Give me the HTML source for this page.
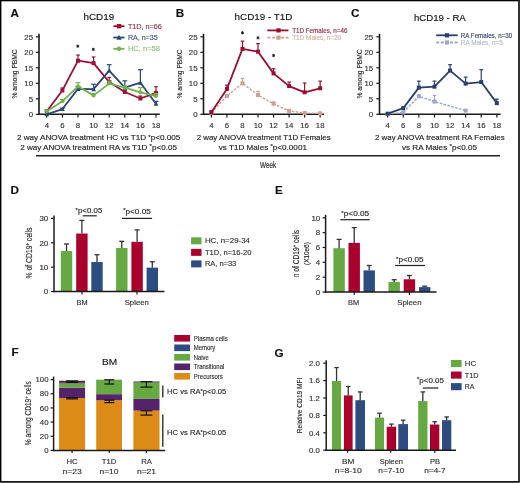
<!DOCTYPE html>
<html><head><meta charset="utf-8"><style>
html,body{margin:0;padding:0;background:#fff;}
body{width:520px;height:483px;overflow:hidden;}
svg{display:block;font-family:"Liberation Sans", sans-serif;will-change:transform;}
text{stroke-width:0.15px;}
</style></head><body>
<svg width="520" height="483" viewBox="0 0 520 483">
<rect x="0" y="0" width="520" height="483" fill="#fff"/>
<text x="10.40" y="17.40" font-size="11.7" fill="#111" stroke="#111" font-weight="bold">A</text>
<text x="83.50" y="20.30" font-size="9.9" fill="#111" stroke="#111" stroke-width="0.3" textLength="30.70" lengthAdjust="spacingAndGlyphs">hCD19</text>
<line x1="39.00" y1="33.80" x2="39.00" y2="115.05" stroke="#1a1a1a" stroke-width="1.6"/>
<line x1="38.25" y1="114.30" x2="159.80" y2="114.30" stroke="#1a1a1a" stroke-width="1.5"/>
<line x1="35.80" y1="114.30" x2="39.00" y2="114.30" stroke="#1a1a1a" stroke-width="1.2"/>
<text x="33.00" y="117.05" font-size="7.8" text-anchor="end" fill="#333" stroke="#333">0</text>
<line x1="35.80" y1="98.80" x2="39.00" y2="98.80" stroke="#1a1a1a" stroke-width="1.2"/>
<text x="33.00" y="101.55" font-size="7.8" text-anchor="end" fill="#333" stroke="#333">5</text>
<line x1="35.80" y1="83.30" x2="39.00" y2="83.30" stroke="#1a1a1a" stroke-width="1.2"/>
<text x="33.00" y="86.05" font-size="7.8" text-anchor="end" fill="#333" stroke="#333">10</text>
<line x1="35.80" y1="67.80" x2="39.00" y2="67.80" stroke="#1a1a1a" stroke-width="1.2"/>
<text x="33.00" y="70.55" font-size="7.8" text-anchor="end" fill="#333" stroke="#333">15</text>
<line x1="35.80" y1="52.30" x2="39.00" y2="52.30" stroke="#1a1a1a" stroke-width="1.2"/>
<text x="33.00" y="55.05" font-size="7.8" text-anchor="end" fill="#333" stroke="#333">20</text>
<line x1="35.80" y1="36.80" x2="39.00" y2="36.80" stroke="#1a1a1a" stroke-width="1.2"/>
<text x="33.00" y="39.55" font-size="7.8" text-anchor="end" fill="#333" stroke="#333">25</text>
<line x1="46.80" y1="114.30" x2="46.80" y2="117.50" stroke="#1a1a1a" stroke-width="1.2"/>
<text x="46.80" y="128.40" font-size="7.8" text-anchor="middle" fill="#333" stroke="#333">4</text>
<line x1="62.40" y1="114.30" x2="62.40" y2="117.50" stroke="#1a1a1a" stroke-width="1.2"/>
<text x="62.40" y="128.40" font-size="7.8" text-anchor="middle" fill="#333" stroke="#333">6</text>
<line x1="78.00" y1="114.30" x2="78.00" y2="117.50" stroke="#1a1a1a" stroke-width="1.2"/>
<text x="78.00" y="128.40" font-size="7.8" text-anchor="middle" fill="#333" stroke="#333">8</text>
<line x1="93.60" y1="114.30" x2="93.60" y2="117.50" stroke="#1a1a1a" stroke-width="1.2"/>
<text x="93.60" y="128.40" font-size="7.8" text-anchor="middle" fill="#333" stroke="#333">10</text>
<line x1="109.20" y1="114.30" x2="109.20" y2="117.50" stroke="#1a1a1a" stroke-width="1.2"/>
<text x="109.20" y="128.40" font-size="7.8" text-anchor="middle" fill="#333" stroke="#333">12</text>
<line x1="124.80" y1="114.30" x2="124.80" y2="117.50" stroke="#1a1a1a" stroke-width="1.2"/>
<text x="124.80" y="128.40" font-size="7.8" text-anchor="middle" fill="#333" stroke="#333">14</text>
<line x1="140.40" y1="114.30" x2="140.40" y2="117.50" stroke="#1a1a1a" stroke-width="1.2"/>
<text x="140.40" y="128.40" font-size="7.8" text-anchor="middle" fill="#333" stroke="#333">16</text>
<line x1="156.00" y1="114.30" x2="156.00" y2="117.50" stroke="#1a1a1a" stroke-width="1.2"/>
<text x="156.00" y="128.40" font-size="7.8" text-anchor="middle" fill="#333" stroke="#333">18</text>
<text x="17.00" y="98.60" font-size="7.2" fill="#2a2a2a" stroke="#2a2a2a" stroke-width="0.35" textLength="49.30" lengthAdjust="spacingAndGlyphs" transform="rotate(-90 17.00 98.60)">% among PBMC</text>
<line x1="46.80" y1="111.20" x2="46.80" y2="110.27" stroke="#9a1238" stroke-width="1.2"/>
<line x1="45.00" y1="110.27" x2="48.60" y2="110.27" stroke="#9a1238" stroke-width="1.2"/>
<line x1="62.40" y1="90.43" x2="62.40" y2="87.95" stroke="#9a1238" stroke-width="1.2"/>
<line x1="60.60" y1="87.95" x2="64.20" y2="87.95" stroke="#9a1238" stroke-width="1.2"/>
<line x1="78.00" y1="60.67" x2="78.00" y2="55.09" stroke="#9a1238" stroke-width="1.2"/>
<line x1="76.20" y1="55.09" x2="79.80" y2="55.09" stroke="#9a1238" stroke-width="1.2"/>
<line x1="93.60" y1="63.15" x2="93.60" y2="56.95" stroke="#9a1238" stroke-width="1.2"/>
<line x1="91.80" y1="56.95" x2="95.40" y2="56.95" stroke="#9a1238" stroke-width="1.2"/>
<line x1="109.20" y1="82.06" x2="109.20" y2="77.41" stroke="#9a1238" stroke-width="1.2"/>
<line x1="107.40" y1="77.41" x2="111.00" y2="77.41" stroke="#9a1238" stroke-width="1.2"/>
<line x1="124.80" y1="91.98" x2="124.80" y2="90.12" stroke="#9a1238" stroke-width="1.2"/>
<line x1="123.00" y1="90.12" x2="126.60" y2="90.12" stroke="#9a1238" stroke-width="1.2"/>
<line x1="140.40" y1="98.49" x2="140.40" y2="96.01" stroke="#9a1238" stroke-width="1.2"/>
<line x1="138.60" y1="96.01" x2="142.20" y2="96.01" stroke="#9a1238" stroke-width="1.2"/>
<line x1="156.00" y1="92.91" x2="156.00" y2="86.71" stroke="#9a1238" stroke-width="1.2"/>
<line x1="154.20" y1="86.71" x2="157.80" y2="86.71" stroke="#9a1238" stroke-width="1.2"/>
<polyline points="46.80,111.20 62.40,90.43 78.00,60.67 93.60,63.15 109.20,82.06 124.80,91.98 140.40,98.49 156.00,92.91" fill="none" stroke="#9a1238" stroke-width="1.8" stroke-linejoin="round"/>
<rect x="44.80" y="109.20" width="4.00" height="4.00" fill="#9a1238"/>
<rect x="60.40" y="88.43" width="4.00" height="4.00" fill="#9a1238"/>
<rect x="76.00" y="58.67" width="4.00" height="4.00" fill="#9a1238"/>
<rect x="91.60" y="61.15" width="4.00" height="4.00" fill="#9a1238"/>
<rect x="107.20" y="80.06" width="4.00" height="4.00" fill="#9a1238"/>
<rect x="122.80" y="89.98" width="4.00" height="4.00" fill="#9a1238"/>
<rect x="138.40" y="96.49" width="4.00" height="4.00" fill="#9a1238"/>
<rect x="154.00" y="90.91" width="4.00" height="4.00" fill="#9a1238"/>
<line x1="62.40" y1="109.03" x2="62.40" y2="108.10" stroke="#2b4777" stroke-width="1.2"/>
<line x1="60.00" y1="108.10" x2="64.80" y2="108.10" stroke="#2b4777" stroke-width="1.2"/>
<line x1="78.00" y1="88.88" x2="78.00" y2="86.40" stroke="#2b4777" stroke-width="1.2"/>
<line x1="75.60" y1="86.40" x2="80.40" y2="86.40" stroke="#2b4777" stroke-width="1.2"/>
<line x1="93.60" y1="89.19" x2="93.60" y2="84.23" stroke="#2b4777" stroke-width="1.2"/>
<line x1="91.20" y1="84.23" x2="96.00" y2="84.23" stroke="#2b4777" stroke-width="1.2"/>
<line x1="109.20" y1="70.59" x2="109.20" y2="64.70" stroke="#2b4777" stroke-width="1.2"/>
<line x1="106.80" y1="64.70" x2="111.60" y2="64.70" stroke="#2b4777" stroke-width="1.2"/>
<line x1="124.80" y1="87.64" x2="124.80" y2="80.82" stroke="#2b4777" stroke-width="1.2"/>
<line x1="122.40" y1="80.82" x2="127.20" y2="80.82" stroke="#2b4777" stroke-width="1.2"/>
<line x1="140.40" y1="82.68" x2="140.40" y2="69.66" stroke="#2b4777" stroke-width="1.2"/>
<line x1="138.00" y1="69.66" x2="142.80" y2="69.66" stroke="#2b4777" stroke-width="1.2"/>
<line x1="156.00" y1="103.76" x2="156.00" y2="101.28" stroke="#2b4777" stroke-width="1.2"/>
<line x1="153.60" y1="101.28" x2="158.40" y2="101.28" stroke="#2b4777" stroke-width="1.2"/>
<polyline points="46.80,114.30 62.40,109.03 78.00,88.88 93.60,89.19 109.20,70.59 124.80,87.64 140.40,82.68 156.00,103.76" fill="none" stroke="#2b4777" stroke-width="1.8" stroke-linejoin="round"/>
<path d="M46.80,111.90 L49.20,116.30 L44.40,116.30 Z" fill="#2b4777"/>
<path d="M62.40,106.63 L64.80,111.03 L60.00,111.03 Z" fill="#2b4777"/>
<path d="M78.00,86.48 L80.40,90.88 L75.60,90.88 Z" fill="#2b4777"/>
<path d="M93.60,86.79 L96.00,91.19 L91.20,91.19 Z" fill="#2b4777"/>
<path d="M109.20,68.19 L111.60,72.59 L106.80,72.59 Z" fill="#2b4777"/>
<path d="M124.80,85.24 L127.20,89.64 L122.40,89.64 Z" fill="#2b4777"/>
<path d="M140.40,80.28 L142.80,84.68 L138.00,84.68 Z" fill="#2b4777"/>
<path d="M156.00,101.36 L158.40,105.76 L153.60,105.76 Z" fill="#2b4777"/>
<line x1="46.80" y1="111.20" x2="46.80" y2="110.27" stroke="#72b250" stroke-width="1.2"/>
<line x1="44.40" y1="110.27" x2="49.20" y2="110.27" stroke="#72b250" stroke-width="1.2"/>
<line x1="62.40" y1="101.28" x2="62.40" y2="99.42" stroke="#72b250" stroke-width="1.2"/>
<line x1="60.00" y1="99.42" x2="64.80" y2="99.42" stroke="#72b250" stroke-width="1.2"/>
<line x1="78.00" y1="86.40" x2="78.00" y2="82.68" stroke="#72b250" stroke-width="1.2"/>
<line x1="75.60" y1="82.68" x2="80.40" y2="82.68" stroke="#72b250" stroke-width="1.2"/>
<line x1="93.60" y1="95.39" x2="93.60" y2="93.53" stroke="#72b250" stroke-width="1.2"/>
<line x1="91.20" y1="93.53" x2="96.00" y2="93.53" stroke="#72b250" stroke-width="1.2"/>
<line x1="109.20" y1="83.61" x2="109.20" y2="81.13" stroke="#72b250" stroke-width="1.2"/>
<line x1="106.80" y1="81.13" x2="111.60" y2="81.13" stroke="#72b250" stroke-width="1.2"/>
<line x1="124.80" y1="87.64" x2="124.80" y2="86.09" stroke="#72b250" stroke-width="1.2"/>
<line x1="122.40" y1="86.09" x2="127.20" y2="86.09" stroke="#72b250" stroke-width="1.2"/>
<line x1="140.40" y1="92.29" x2="140.40" y2="87.64" stroke="#72b250" stroke-width="1.2"/>
<line x1="138.00" y1="87.64" x2="142.80" y2="87.64" stroke="#72b250" stroke-width="1.2"/>
<line x1="156.00" y1="96.01" x2="156.00" y2="93.53" stroke="#72b250" stroke-width="1.2"/>
<line x1="153.60" y1="93.53" x2="158.40" y2="93.53" stroke="#72b250" stroke-width="1.2"/>
<polyline points="46.80,111.20 62.40,101.28 78.00,86.40 93.60,95.39 109.20,83.61 124.80,87.64 140.40,92.29 156.00,96.01" fill="none" stroke="#72b250" stroke-width="1.8" stroke-linejoin="round"/>
<circle cx="46.80" cy="111.20" r="2.00" fill="#72b250"/>
<circle cx="62.40" cy="101.28" r="2.00" fill="#72b250"/>
<circle cx="78.00" cy="86.40" r="2.00" fill="#72b250"/>
<circle cx="93.60" cy="95.39" r="2.00" fill="#72b250"/>
<circle cx="109.20" cy="83.61" r="2.00" fill="#72b250"/>
<circle cx="124.80" cy="87.64" r="2.00" fill="#72b250"/>
<circle cx="140.40" cy="92.29" r="2.00" fill="#72b250"/>
<circle cx="156.00" cy="96.01" r="2.00" fill="#72b250"/>
<path d="M77.80,44.60L77.80,47.80M79.19,45.40L76.41,47.00M79.19,47.00L76.41,45.40" stroke="#1a1a1a" stroke-width="1.0" fill="none"/>
<circle cx="77.80" cy="46.20" r="0.8" fill="#1a1a1a"/>
<path d="M93.30,47.80L93.30,51.00M94.69,48.60L91.91,50.20M94.69,50.20L91.91,48.60" stroke="#1a1a1a" stroke-width="1.0" fill="none"/>
<circle cx="93.30" cy="49.40" r="0.8" fill="#1a1a1a"/>
<line x1="113.40" y1="26.20" x2="124.50" y2="26.20" stroke="#9a1238" stroke-width="1.8"/>
<rect x="116.80" y="24.00" width="4.40" height="4.40" fill="#9a1238"/>
<text x="127.90" y="28.80" font-size="7.3" fill="#94374d" stroke="#94374d" stroke-width="0.1" textLength="33.90" lengthAdjust="spacingAndGlyphs">T1D, n=66</text>
<line x1="113.40" y1="37.50" x2="124.50" y2="37.50" stroke="#2b4777" stroke-width="1.8"/>
<path d="M119.00,34.86 L121.64,39.70 L116.36,39.70 Z" fill="#2b4777"/>
<text x="127.90" y="40.10" font-size="7.3" fill="#44527e" stroke="#44527e" stroke-width="0.1" textLength="29.90" lengthAdjust="spacingAndGlyphs">RA, n=35</text>
<line x1="113.40" y1="48.80" x2="124.50" y2="48.80" stroke="#72b250" stroke-width="1.8"/>
<circle cx="119.00" cy="48.80" r="2.20" fill="#72b250"/>
<text x="127.90" y="51.40" font-size="7.3" fill="#93bf78" stroke="#93bf78" stroke-width="0.1" textLength="32.10" lengthAdjust="spacingAndGlyphs">HC, n=58</text>
<text x="175.80" y="17.40" font-size="11.7" fill="#111" stroke="#111" font-weight="bold">B</text>
<text x="234.60" y="20.30" font-size="9.9" fill="#111" stroke="#111" stroke-width="0.3" textLength="57.80" lengthAdjust="spacingAndGlyphs">hCD19 - T1D</text>
<line x1="203.50" y1="33.80" x2="203.50" y2="115.05" stroke="#1a1a1a" stroke-width="1.6"/>
<line x1="202.75" y1="114.30" x2="323.98" y2="114.30" stroke="#1a1a1a" stroke-width="1.5"/>
<line x1="200.30" y1="114.30" x2="203.50" y2="114.30" stroke="#1a1a1a" stroke-width="1.2"/>
<text x="197.50" y="117.05" font-size="7.8" text-anchor="end" fill="#333" stroke="#333">0</text>
<line x1="200.30" y1="98.80" x2="203.50" y2="98.80" stroke="#1a1a1a" stroke-width="1.2"/>
<text x="197.50" y="101.55" font-size="7.8" text-anchor="end" fill="#333" stroke="#333">5</text>
<line x1="200.30" y1="83.30" x2="203.50" y2="83.30" stroke="#1a1a1a" stroke-width="1.2"/>
<text x="197.50" y="86.05" font-size="7.8" text-anchor="end" fill="#333" stroke="#333">10</text>
<line x1="200.30" y1="67.80" x2="203.50" y2="67.80" stroke="#1a1a1a" stroke-width="1.2"/>
<text x="197.50" y="70.55" font-size="7.8" text-anchor="end" fill="#333" stroke="#333">15</text>
<line x1="200.30" y1="52.30" x2="203.50" y2="52.30" stroke="#1a1a1a" stroke-width="1.2"/>
<text x="197.50" y="55.05" font-size="7.8" text-anchor="end" fill="#333" stroke="#333">20</text>
<line x1="200.30" y1="36.80" x2="203.50" y2="36.80" stroke="#1a1a1a" stroke-width="1.2"/>
<text x="197.50" y="39.55" font-size="7.8" text-anchor="end" fill="#333" stroke="#333">25</text>
<line x1="211.40" y1="114.30" x2="211.40" y2="117.50" stroke="#1a1a1a" stroke-width="1.2"/>
<text x="211.40" y="128.40" font-size="7.8" text-anchor="middle" fill="#333" stroke="#333">4</text>
<line x1="226.94" y1="114.30" x2="226.94" y2="117.50" stroke="#1a1a1a" stroke-width="1.2"/>
<text x="226.94" y="128.40" font-size="7.8" text-anchor="middle" fill="#333" stroke="#333">6</text>
<line x1="242.48" y1="114.30" x2="242.48" y2="117.50" stroke="#1a1a1a" stroke-width="1.2"/>
<text x="242.48" y="128.40" font-size="7.8" text-anchor="middle" fill="#333" stroke="#333">8</text>
<line x1="258.02" y1="114.30" x2="258.02" y2="117.50" stroke="#1a1a1a" stroke-width="1.2"/>
<text x="258.02" y="128.40" font-size="7.8" text-anchor="middle" fill="#333" stroke="#333">10</text>
<line x1="273.56" y1="114.30" x2="273.56" y2="117.50" stroke="#1a1a1a" stroke-width="1.2"/>
<text x="273.56" y="128.40" font-size="7.8" text-anchor="middle" fill="#333" stroke="#333">12</text>
<line x1="289.10" y1="114.30" x2="289.10" y2="117.50" stroke="#1a1a1a" stroke-width="1.2"/>
<text x="289.10" y="128.40" font-size="7.8" text-anchor="middle" fill="#333" stroke="#333">14</text>
<line x1="304.64" y1="114.30" x2="304.64" y2="117.50" stroke="#1a1a1a" stroke-width="1.2"/>
<text x="304.64" y="128.40" font-size="7.8" text-anchor="middle" fill="#333" stroke="#333">16</text>
<line x1="320.18" y1="114.30" x2="320.18" y2="117.50" stroke="#1a1a1a" stroke-width="1.2"/>
<text x="320.18" y="128.40" font-size="7.8" text-anchor="middle" fill="#333" stroke="#333">18</text>
<text x="182.00" y="98.60" font-size="7.2" fill="#2a2a2a" stroke="#2a2a2a" stroke-width="0.35" textLength="49.30" lengthAdjust="spacingAndGlyphs" transform="rotate(-90 182.00 98.60)">% among PBMC</text>
<line x1="211.40" y1="112.75" x2="211.40" y2="112.13" stroke="#cf9f94" stroke-width="1.2"/>
<line x1="209.70" y1="112.13" x2="213.10" y2="112.13" stroke="#cf9f94" stroke-width="1.2"/>
<line x1="226.94" y1="96.01" x2="226.94" y2="94.46" stroke="#cf9f94" stroke-width="1.2"/>
<line x1="225.24" y1="94.46" x2="228.64" y2="94.46" stroke="#cf9f94" stroke-width="1.2"/>
<line x1="242.48" y1="83.30" x2="242.48" y2="78.34" stroke="#cf9f94" stroke-width="1.2"/>
<line x1="240.78" y1="78.34" x2="244.18" y2="78.34" stroke="#cf9f94" stroke-width="1.2"/>
<line x1="258.02" y1="95.08" x2="258.02" y2="91.36" stroke="#cf9f94" stroke-width="1.2"/>
<line x1="256.32" y1="91.36" x2="259.72" y2="91.36" stroke="#cf9f94" stroke-width="1.2"/>
<line x1="273.56" y1="103.76" x2="273.56" y2="101.90" stroke="#cf9f94" stroke-width="1.2"/>
<line x1="271.86" y1="101.90" x2="275.26" y2="101.90" stroke="#cf9f94" stroke-width="1.2"/>
<line x1="289.10" y1="110.89" x2="289.10" y2="109.96" stroke="#cf9f94" stroke-width="1.2"/>
<line x1="287.40" y1="109.96" x2="290.80" y2="109.96" stroke="#cf9f94" stroke-width="1.2"/>
<line x1="304.64" y1="113.06" x2="304.64" y2="112.13" stroke="#cf9f94" stroke-width="1.2"/>
<line x1="302.94" y1="112.13" x2="306.34" y2="112.13" stroke="#cf9f94" stroke-width="1.2"/>
<line x1="320.18" y1="113.37" x2="320.18" y2="112.44" stroke="#cf9f94" stroke-width="1.2"/>
<line x1="318.48" y1="112.44" x2="321.88" y2="112.44" stroke="#cf9f94" stroke-width="1.2"/>
<polyline points="211.40,112.75 226.94,96.01 242.48,83.30 258.02,95.08 273.56,103.76 289.10,110.89 304.64,113.06 320.18,113.37" fill="none" stroke="#cf9f94" stroke-width="1.4" stroke-linejoin="round" stroke-dasharray="2.6,1.4"/>
<rect x="209.40" y="110.75" width="4.00" height="4.00" fill="#cf9f94"/>
<rect x="224.94" y="94.01" width="4.00" height="4.00" fill="#cf9f94"/>
<rect x="240.48" y="81.30" width="4.00" height="4.00" fill="#cf9f94"/>
<rect x="256.02" y="93.08" width="4.00" height="4.00" fill="#cf9f94"/>
<rect x="271.56" y="101.76" width="4.00" height="4.00" fill="#cf9f94"/>
<rect x="287.10" y="108.89" width="4.00" height="4.00" fill="#cf9f94"/>
<rect x="302.64" y="111.06" width="4.00" height="4.00" fill="#cf9f94"/>
<rect x="318.18" y="111.37" width="4.00" height="4.00" fill="#cf9f94"/>
<line x1="211.40" y1="112.13" x2="211.40" y2="111.20" stroke="#980f33" stroke-width="1.2"/>
<line x1="209.60" y1="111.20" x2="213.20" y2="111.20" stroke="#980f33" stroke-width="1.2"/>
<line x1="226.94" y1="88.88" x2="226.94" y2="85.16" stroke="#980f33" stroke-width="1.2"/>
<line x1="225.14" y1="85.16" x2="228.74" y2="85.16" stroke="#980f33" stroke-width="1.2"/>
<line x1="242.48" y1="48.89" x2="242.48" y2="41.14" stroke="#980f33" stroke-width="1.2"/>
<line x1="240.68" y1="41.14" x2="244.28" y2="41.14" stroke="#980f33" stroke-width="1.2"/>
<line x1="258.02" y1="51.68" x2="258.02" y2="43.62" stroke="#980f33" stroke-width="1.2"/>
<line x1="256.22" y1="43.62" x2="259.82" y2="43.62" stroke="#980f33" stroke-width="1.2"/>
<line x1="273.56" y1="73.38" x2="273.56" y2="68.73" stroke="#980f33" stroke-width="1.2"/>
<line x1="271.76" y1="68.73" x2="275.36" y2="68.73" stroke="#980f33" stroke-width="1.2"/>
<line x1="289.10" y1="86.09" x2="289.10" y2="82.06" stroke="#980f33" stroke-width="1.2"/>
<line x1="287.30" y1="82.06" x2="290.90" y2="82.06" stroke="#980f33" stroke-width="1.2"/>
<line x1="304.64" y1="92.29" x2="304.64" y2="82.99" stroke="#980f33" stroke-width="1.2"/>
<line x1="302.84" y1="82.99" x2="306.44" y2="82.99" stroke="#980f33" stroke-width="1.2"/>
<line x1="320.18" y1="88.26" x2="320.18" y2="81.13" stroke="#980f33" stroke-width="1.2"/>
<line x1="318.38" y1="81.13" x2="321.98" y2="81.13" stroke="#980f33" stroke-width="1.2"/>
<polyline points="211.40,112.13 226.94,88.88 242.48,48.89 258.02,51.68 273.56,73.38 289.10,86.09 304.64,92.29 320.18,88.26" fill="none" stroke="#980f33" stroke-width="1.8" stroke-linejoin="round"/>
<rect x="209.40" y="110.13" width="4.00" height="4.00" fill="#980f33"/>
<rect x="224.94" y="86.88" width="4.00" height="4.00" fill="#980f33"/>
<rect x="240.48" y="46.89" width="4.00" height="4.00" fill="#980f33"/>
<rect x="256.02" y="49.68" width="4.00" height="4.00" fill="#980f33"/>
<rect x="271.56" y="71.38" width="4.00" height="4.00" fill="#980f33"/>
<rect x="287.10" y="84.09" width="4.00" height="4.00" fill="#980f33"/>
<rect x="302.64" y="90.29" width="4.00" height="4.00" fill="#980f33"/>
<rect x="318.18" y="86.26" width="4.00" height="4.00" fill="#980f33"/>
<path d="M242.50,31.20L242.50,34.40M243.89,32.00L241.11,33.60M243.89,33.60L241.11,32.00" stroke="#1a1a1a" stroke-width="1.0" fill="none"/>
<circle cx="242.50" cy="32.80" r="0.8" fill="#1a1a1a"/>
<path d="M258.00,36.20L258.00,39.40M259.39,37.00L256.61,38.60M259.39,38.60L256.61,37.00" stroke="#1a1a1a" stroke-width="1.0" fill="none"/>
<circle cx="258.00" cy="37.80" r="0.8" fill="#1a1a1a"/>
<path d="M273.60,53.90L273.60,57.10M274.99,54.70L272.21,56.30M274.99,56.30L272.21,54.70" stroke="#1a1a1a" stroke-width="1.0" fill="none"/>
<circle cx="273.60" cy="55.50" r="0.8" fill="#1a1a1a"/>
<line x1="267.30" y1="30.40" x2="288.50" y2="30.40" stroke="#980f33" stroke-width="1.8"/>
<rect x="276.40" y="28.30" width="4.20" height="4.20" fill="#980f33"/>
<text x="292.20" y="32.60" font-size="6.3" fill="#8f2d45" stroke="#8f2d45" stroke-width="0" textLength="55.20" lengthAdjust="spacingAndGlyphs">T1D Females, n=46</text>
<line x1="267.30" y1="37.60" x2="288.50" y2="37.60" stroke="#cf9f94" stroke-width="1.8" stroke-dasharray="3,1.6"/>
<rect x="276.40" y="35.50" width="4.20" height="4.20" fill="#cf9f94"/>
<text x="292.20" y="39.80" font-size="6.3" fill="#d4b3ab" stroke="#d4b3ab" stroke-width="0" textLength="49.00" lengthAdjust="spacingAndGlyphs">T1D Males, n=20</text>
<text x="351.00" y="17.40" font-size="11.7" fill="#111" stroke="#111" font-weight="bold">C</text>
<text x="413.90" y="20.50" font-size="9.9" fill="#111" stroke="#111" stroke-width="0.3" textLength="51.90" lengthAdjust="spacingAndGlyphs">hCD19 - RA</text>
<line x1="379.50" y1="33.80" x2="379.50" y2="115.05" stroke="#1a1a1a" stroke-width="1.6"/>
<line x1="378.75" y1="114.30" x2="500.63" y2="114.30" stroke="#1a1a1a" stroke-width="1.5"/>
<line x1="376.30" y1="114.30" x2="379.50" y2="114.30" stroke="#1a1a1a" stroke-width="1.2"/>
<text x="373.20" y="117.05" font-size="7.8" text-anchor="end" fill="#333" stroke="#333">0</text>
<line x1="376.30" y1="98.80" x2="379.50" y2="98.80" stroke="#1a1a1a" stroke-width="1.2"/>
<text x="373.20" y="101.55" font-size="7.8" text-anchor="end" fill="#333" stroke="#333">5</text>
<line x1="376.30" y1="83.30" x2="379.50" y2="83.30" stroke="#1a1a1a" stroke-width="1.2"/>
<text x="373.20" y="86.05" font-size="7.8" text-anchor="end" fill="#333" stroke="#333">10</text>
<line x1="376.30" y1="67.80" x2="379.50" y2="67.80" stroke="#1a1a1a" stroke-width="1.2"/>
<text x="373.20" y="70.55" font-size="7.8" text-anchor="end" fill="#333" stroke="#333">15</text>
<line x1="376.30" y1="52.30" x2="379.50" y2="52.30" stroke="#1a1a1a" stroke-width="1.2"/>
<text x="373.20" y="55.05" font-size="7.8" text-anchor="end" fill="#333" stroke="#333">20</text>
<line x1="376.30" y1="36.80" x2="379.50" y2="36.80" stroke="#1a1a1a" stroke-width="1.2"/>
<text x="373.20" y="39.55" font-size="7.8" text-anchor="end" fill="#333" stroke="#333">25</text>
<line x1="387.70" y1="114.30" x2="387.70" y2="117.50" stroke="#1a1a1a" stroke-width="1.2"/>
<text x="387.70" y="128.40" font-size="7.8" text-anchor="middle" fill="#333" stroke="#333">4</text>
<line x1="403.29" y1="114.30" x2="403.29" y2="117.50" stroke="#1a1a1a" stroke-width="1.2"/>
<text x="403.29" y="128.40" font-size="7.8" text-anchor="middle" fill="#333" stroke="#333">6</text>
<line x1="418.88" y1="114.30" x2="418.88" y2="117.50" stroke="#1a1a1a" stroke-width="1.2"/>
<text x="418.88" y="128.40" font-size="7.8" text-anchor="middle" fill="#333" stroke="#333">8</text>
<line x1="434.47" y1="114.30" x2="434.47" y2="117.50" stroke="#1a1a1a" stroke-width="1.2"/>
<text x="434.47" y="128.40" font-size="7.8" text-anchor="middle" fill="#333" stroke="#333">10</text>
<line x1="450.06" y1="114.30" x2="450.06" y2="117.50" stroke="#1a1a1a" stroke-width="1.2"/>
<text x="450.06" y="128.40" font-size="7.8" text-anchor="middle" fill="#333" stroke="#333">12</text>
<line x1="465.65" y1="114.30" x2="465.65" y2="117.50" stroke="#1a1a1a" stroke-width="1.2"/>
<text x="465.65" y="128.40" font-size="7.8" text-anchor="middle" fill="#333" stroke="#333">14</text>
<line x1="481.24" y1="114.30" x2="481.24" y2="117.50" stroke="#1a1a1a" stroke-width="1.2"/>
<text x="481.24" y="128.40" font-size="7.8" text-anchor="middle" fill="#333" stroke="#333">16</text>
<line x1="496.83" y1="114.30" x2="496.83" y2="117.50" stroke="#1a1a1a" stroke-width="1.2"/>
<text x="496.83" y="128.40" font-size="7.8" text-anchor="middle" fill="#333" stroke="#333">18</text>
<text x="361.70" y="98.60" font-size="7.2" fill="#2a2a2a" stroke="#2a2a2a" stroke-width="0.35" textLength="49.30" lengthAdjust="spacingAndGlyphs" transform="rotate(-90 361.70 98.60)">% among PBMC</text>
<line x1="418.88" y1="96.32" x2="418.88" y2="94.77" stroke="#a0a6c6" stroke-width="1.2"/>
<line x1="417.18" y1="94.77" x2="420.58" y2="94.77" stroke="#a0a6c6" stroke-width="1.2"/>
<line x1="434.47" y1="101.59" x2="434.47" y2="95.39" stroke="#a0a6c6" stroke-width="1.2"/>
<line x1="432.77" y1="95.39" x2="436.17" y2="95.39" stroke="#a0a6c6" stroke-width="1.2"/>
<polyline points="387.70,113.99 403.29,112.44 418.88,96.32 434.47,101.59 465.65,110.58" fill="none" stroke="#a0a6c6" stroke-width="1.5" stroke-linejoin="round" stroke-dasharray="2.6,1.4"/>
<rect x="385.70" y="111.99" width="4.00" height="4.00" fill="#a0a6c6"/>
<rect x="401.29" y="110.44" width="4.00" height="4.00" fill="#a0a6c6"/>
<rect x="416.88" y="94.32" width="4.00" height="4.00" fill="#a0a6c6"/>
<rect x="432.47" y="99.59" width="4.00" height="4.00" fill="#a0a6c6"/>
<rect x="463.65" y="108.58" width="4.00" height="4.00" fill="#a0a6c6"/>
<line x1="387.70" y1="113.68" x2="387.70" y2="113.06" stroke="#2b3f6d" stroke-width="1.2"/>
<line x1="385.80" y1="113.06" x2="389.60" y2="113.06" stroke="#2b3f6d" stroke-width="1.2"/>
<line x1="403.29" y1="108.10" x2="403.29" y2="107.17" stroke="#2b3f6d" stroke-width="1.2"/>
<line x1="401.39" y1="107.17" x2="405.19" y2="107.17" stroke="#2b3f6d" stroke-width="1.2"/>
<line x1="418.88" y1="87.64" x2="418.88" y2="81.13" stroke="#2b3f6d" stroke-width="1.2"/>
<line x1="416.98" y1="81.13" x2="420.78" y2="81.13" stroke="#2b3f6d" stroke-width="1.2"/>
<line x1="434.47" y1="86.71" x2="434.47" y2="81.13" stroke="#2b3f6d" stroke-width="1.2"/>
<line x1="432.57" y1="81.13" x2="436.37" y2="81.13" stroke="#2b3f6d" stroke-width="1.2"/>
<line x1="450.06" y1="70.59" x2="450.06" y2="64.70" stroke="#2b3f6d" stroke-width="1.2"/>
<line x1="448.16" y1="64.70" x2="451.96" y2="64.70" stroke="#2b3f6d" stroke-width="1.2"/>
<line x1="465.65" y1="83.61" x2="465.65" y2="77.10" stroke="#2b3f6d" stroke-width="1.2"/>
<line x1="463.75" y1="77.10" x2="467.55" y2="77.10" stroke="#2b3f6d" stroke-width="1.2"/>
<line x1="481.24" y1="82.06" x2="481.24" y2="69.66" stroke="#2b3f6d" stroke-width="1.2"/>
<line x1="479.34" y1="69.66" x2="483.14" y2="69.66" stroke="#2b3f6d" stroke-width="1.2"/>
<line x1="496.83" y1="103.14" x2="496.83" y2="99.11" stroke="#2b3f6d" stroke-width="1.2"/>
<line x1="494.93" y1="99.11" x2="498.73" y2="99.11" stroke="#2b3f6d" stroke-width="1.2"/>
<polyline points="387.70,113.68 403.29,108.10 418.88,87.64 434.47,86.71 450.06,70.59 465.65,83.61 481.24,82.06 496.83,103.14" fill="none" stroke="#2b3f6d" stroke-width="1.8" stroke-linejoin="round"/>
<rect x="385.70" y="111.68" width="4.00" height="4.00" fill="#2b3f6d"/>
<rect x="401.29" y="106.10" width="4.00" height="4.00" fill="#2b3f6d"/>
<rect x="416.88" y="85.64" width="4.00" height="4.00" fill="#2b3f6d"/>
<rect x="432.47" y="84.71" width="4.00" height="4.00" fill="#2b3f6d"/>
<rect x="448.06" y="68.59" width="4.00" height="4.00" fill="#2b3f6d"/>
<rect x="463.65" y="81.61" width="4.00" height="4.00" fill="#2b3f6d"/>
<rect x="479.24" y="80.06" width="4.00" height="4.00" fill="#2b3f6d"/>
<rect x="494.83" y="101.14" width="4.00" height="4.00" fill="#2b3f6d"/>
<line x1="436.20" y1="35.30" x2="457.70" y2="35.30" stroke="#2b3f6d" stroke-width="1.8"/>
<rect x="444.90" y="33.20" width="4.20" height="4.20" fill="#2b3f6d"/>
<text x="460.80" y="37.50" font-size="6.3" fill="#3a4670" stroke="#3a4670" stroke-width="0" textLength="51.40" lengthAdjust="spacingAndGlyphs">RA Females, n=30</text>
<line x1="436.20" y1="42.50" x2="457.70" y2="42.50" stroke="#a0a6c6" stroke-width="1.8" stroke-dasharray="3,1.6"/>
<rect x="444.90" y="40.40" width="4.20" height="4.20" fill="#a0a6c6"/>
<text x="460.80" y="44.70" font-size="6.3" fill="#b4b9d0" stroke="#b4b9d0" stroke-width="0" textLength="42.00" lengthAdjust="spacingAndGlyphs">RA Males, n=5</text>
<text x="16.90" y="140.40" font-size="8.1" fill="#222" stroke="#222" textLength="163.50" lengthAdjust="spacingAndGlyphs">2 way ANOVA treatment HC vs T1D <tspan font-size="6.07" dy="-1.46">*</tspan><tspan dy="1.46">p&lt;0.005</tspan></text>
<text x="20.20" y="149.80" font-size="8.1" fill="#222" stroke="#222" textLength="156.70" lengthAdjust="spacingAndGlyphs">2 way ANOVA treatment RA vs T1D <tspan font-size="6.07" dy="-1.46">*</tspan><tspan dy="1.46">p&lt;0.05</tspan></text>
<text x="196.70" y="140.40" font-size="8.1" fill="#222" stroke="#222" textLength="133.90" lengthAdjust="spacingAndGlyphs">2 way ANOVA treatment T1D Females</text>
<text x="218.80" y="149.80" font-size="8.1" fill="#222" stroke="#222" textLength="88.10" lengthAdjust="spacingAndGlyphs">vs T1D Males <tspan font-size="6.07" dy="-1.46">*</tspan><tspan dy="1.46">p&lt;0.0001</tspan></text>
<text x="375.00" y="140.40" font-size="8.1" fill="#222" stroke="#222" textLength="129.60" lengthAdjust="spacingAndGlyphs">2 way ANOVA treatment RA Females</text>
<text x="401.90" y="149.80" font-size="8.1" fill="#222" stroke="#222" textLength="75.20" lengthAdjust="spacingAndGlyphs">vs RA Males <tspan font-size="6.07" dy="-1.46">*</tspan><tspan dy="1.46">p&lt;0.05</tspan></text>
<line x1="36.00" y1="155.70" x2="500.00" y2="155.70" stroke="#222" stroke-width="1.4"/>
<text x="260.00" y="167.80" font-size="9.5" fill="#222" stroke="#222" textLength="16.20" lengthAdjust="spacingAndGlyphs">Week</text>
<text x="10.50" y="194.00" font-size="11.7" fill="#111" stroke="#111" font-weight="bold">D</text>
<rect x="60.80" y="251.08" width="11.40" height="40.42" fill="#66a943"/>
<line x1="66.50" y1="251.08" x2="66.50" y2="244.02" stroke="#333" stroke-width="1.3"/>
<line x1="64.00" y1="244.02" x2="69.00" y2="244.02" stroke="#333" stroke-width="1.3"/>
<rect x="76.20" y="233.55" width="11.40" height="57.95" fill="#aa002e"/>
<line x1="81.90" y1="233.55" x2="81.90" y2="220.40" stroke="#333" stroke-width="1.3"/>
<line x1="79.40" y1="220.40" x2="84.40" y2="220.40" stroke="#333" stroke-width="1.3"/>
<rect x="91.30" y="262.04" width="11.40" height="29.46" fill="#2d4c80"/>
<line x1="97.00" y1="262.04" x2="97.00" y2="254.73" stroke="#333" stroke-width="1.3"/>
<line x1="94.50" y1="254.73" x2="99.50" y2="254.73" stroke="#333" stroke-width="1.3"/>
<rect x="116.10" y="247.91" width="11.40" height="43.59" fill="#66a943"/>
<line x1="121.80" y1="247.91" x2="121.80" y2="241.34" stroke="#333" stroke-width="1.3"/>
<line x1="119.30" y1="241.34" x2="124.30" y2="241.34" stroke="#333" stroke-width="1.3"/>
<rect x="131.40" y="241.83" width="11.40" height="49.67" fill="#aa002e"/>
<line x1="137.10" y1="241.83" x2="137.10" y2="229.89" stroke="#333" stroke-width="1.3"/>
<line x1="134.60" y1="229.89" x2="139.60" y2="229.89" stroke="#333" stroke-width="1.3"/>
<rect x="146.60" y="267.64" width="11.40" height="23.86" fill="#2d4c80"/>
<line x1="152.30" y1="267.64" x2="152.30" y2="261.79" stroke="#333" stroke-width="1.3"/>
<line x1="149.80" y1="261.79" x2="154.80" y2="261.79" stroke="#333" stroke-width="1.3"/>
<line x1="54.00" y1="215.45" x2="54.00" y2="292.20" stroke="#1a1a1a" stroke-width="1.5"/>
<line x1="53.30" y1="291.50" x2="164.40" y2="291.50" stroke="#1a1a1a" stroke-width="1.5"/>
<line x1="51.00" y1="291.50" x2="54.00" y2="291.50" stroke="#1a1a1a" stroke-width="1.2"/>
<text x="48.20" y="294.20" font-size="7.9" text-anchor="end" fill="#333" stroke="#333">0</text>
<line x1="51.00" y1="267.15" x2="54.00" y2="267.15" stroke="#1a1a1a" stroke-width="1.2"/>
<text x="48.20" y="269.85" font-size="7.9" text-anchor="end" fill="#333" stroke="#333">10</text>
<line x1="51.00" y1="242.80" x2="54.00" y2="242.80" stroke="#1a1a1a" stroke-width="1.2"/>
<text x="48.20" y="245.50" font-size="7.9" text-anchor="end" fill="#333" stroke="#333">20</text>
<line x1="51.00" y1="218.45" x2="54.00" y2="218.45" stroke="#1a1a1a" stroke-width="1.2"/>
<text x="48.20" y="221.15" font-size="7.9" text-anchor="end" fill="#333" stroke="#333">30</text>
<line x1="82.00" y1="291.50" x2="82.00" y2="294.50" stroke="#1a1a1a" stroke-width="1.2"/>
<line x1="137.00" y1="291.50" x2="137.00" y2="294.50" stroke="#1a1a1a" stroke-width="1.2"/>
<text x="82.00" y="305.30" font-size="7.4" text-anchor="middle" fill="#333" stroke="#333">BM</text>
<text x="136.80" y="305.30" font-size="7.4" text-anchor="middle" fill="#333" stroke="#333" textLength="24.20" lengthAdjust="spacingAndGlyphs">Spleen</text>
<text x="31.80" y="278.40" font-size="8.6" fill="#2a2a2a" stroke="#2a2a2a" stroke-width="0.3" textLength="50.90" lengthAdjust="spacingAndGlyphs" transform="rotate(-90 31.80 278.40)">% of CD19<tspan font-size="5.33" dy="-3.27">+</tspan><tspan dy="3.27"> cells</tspan></text>
<text x="75.60" y="212.90" font-size="7.4" fill="#2a2a2a" stroke="#2a2a2a" textLength="26.70" lengthAdjust="spacingAndGlyphs"><tspan font-size="5.55" dy="-1.33">*</tspan><tspan dy="1.33">p&lt;0.05</tspan></text>
<line x1="82.70" y1="215.80" x2="96.80" y2="215.80" stroke="#222" stroke-width="1.2"/>
<text x="123.20" y="213.80" font-size="7.4" fill="#2a2a2a" stroke="#2a2a2a" textLength="27.50" lengthAdjust="spacingAndGlyphs"><tspan font-size="5.55" dy="-1.33">*</tspan><tspan dy="1.33">p&lt;0.05</tspan></text>
<line x1="122.00" y1="218.40" x2="152.10" y2="218.40" stroke="#222" stroke-width="1.2"/>
<rect x="191.10" y="237.30" width="10.40" height="7.00" fill="#66a943"/>
<text x="204.90" y="243.20" font-size="7.7" fill="#333" stroke="#333" textLength="45.10" lengthAdjust="spacingAndGlyphs">HC, n=29-34</text>
<rect x="191.10" y="248.85" width="10.40" height="7.00" fill="#aa002e"/>
<text x="204.90" y="254.75" font-size="7.7" fill="#333" stroke="#333" textLength="46.60" lengthAdjust="spacingAndGlyphs">T1D, n=16-20</text>
<rect x="191.10" y="260.40" width="10.40" height="7.00" fill="#2d4c80"/>
<text x="204.90" y="266.30" font-size="7.7" fill="#333" stroke="#333" textLength="31.30" lengthAdjust="spacingAndGlyphs">RA, n=33</text>
<text x="275.00" y="194.20" font-size="11.7" fill="#111" stroke="#111" font-weight="bold">E</text>
<rect x="333.40" y="248.20" width="11.40" height="43.80" fill="#66a943"/>
<line x1="339.10" y1="248.20" x2="339.10" y2="239.40" stroke="#333" stroke-width="1.3"/>
<line x1="336.60" y1="239.40" x2="341.60" y2="239.40" stroke="#333" stroke-width="1.3"/>
<rect x="348.50" y="242.90" width="11.40" height="49.10" fill="#aa002e"/>
<line x1="354.20" y1="242.90" x2="354.20" y2="227.60" stroke="#333" stroke-width="1.3"/>
<line x1="351.70" y1="227.60" x2="356.70" y2="227.60" stroke="#333" stroke-width="1.3"/>
<rect x="363.50" y="270.40" width="11.40" height="21.60" fill="#2d4c80"/>
<line x1="369.20" y1="270.40" x2="369.20" y2="265.50" stroke="#333" stroke-width="1.3"/>
<line x1="366.70" y1="265.50" x2="371.70" y2="265.50" stroke="#333" stroke-width="1.3"/>
<rect x="388.50" y="281.90" width="11.40" height="10.10" fill="#66a943"/>
<line x1="394.20" y1="281.90" x2="394.20" y2="279.70" stroke="#333" stroke-width="1.3"/>
<line x1="391.70" y1="279.70" x2="396.70" y2="279.70" stroke="#333" stroke-width="1.3"/>
<rect x="403.70" y="279.30" width="11.40" height="12.70" fill="#aa002e"/>
<line x1="409.40" y1="279.30" x2="409.40" y2="275.50" stroke="#333" stroke-width="1.3"/>
<line x1="406.90" y1="275.50" x2="411.90" y2="275.50" stroke="#333" stroke-width="1.3"/>
<rect x="419.00" y="287.10" width="11.40" height="4.90" fill="#2d4c80"/>
<line x1="424.70" y1="287.10" x2="424.70" y2="286.20" stroke="#333" stroke-width="1.3"/>
<line x1="422.20" y1="286.20" x2="427.20" y2="286.20" stroke="#333" stroke-width="1.3"/>
<line x1="325.60" y1="214.80" x2="325.60" y2="292.70" stroke="#1a1a1a" stroke-width="1.5"/>
<line x1="324.90" y1="292.00" x2="436.60" y2="292.00" stroke="#1a1a1a" stroke-width="1.5"/>
<line x1="322.60" y1="292.00" x2="325.60" y2="292.00" stroke="#1a1a1a" stroke-width="1.2"/>
<text x="320.20" y="294.70" font-size="7.9" text-anchor="end" fill="#333" stroke="#333">0</text>
<line x1="322.60" y1="277.16" x2="325.60" y2="277.16" stroke="#1a1a1a" stroke-width="1.2"/>
<text x="320.20" y="279.86" font-size="7.9" text-anchor="end" fill="#333" stroke="#333">2</text>
<line x1="322.60" y1="262.32" x2="325.60" y2="262.32" stroke="#1a1a1a" stroke-width="1.2"/>
<text x="320.20" y="265.02" font-size="7.9" text-anchor="end" fill="#333" stroke="#333">4</text>
<line x1="322.60" y1="247.48" x2="325.60" y2="247.48" stroke="#1a1a1a" stroke-width="1.2"/>
<text x="320.20" y="250.18" font-size="7.9" text-anchor="end" fill="#333" stroke="#333">6</text>
<line x1="322.60" y1="232.64" x2="325.60" y2="232.64" stroke="#1a1a1a" stroke-width="1.2"/>
<text x="320.20" y="235.34" font-size="7.9" text-anchor="end" fill="#333" stroke="#333">8</text>
<line x1="322.60" y1="217.80" x2="325.60" y2="217.80" stroke="#1a1a1a" stroke-width="1.2"/>
<text x="320.20" y="220.50" font-size="7.9" text-anchor="end" fill="#333" stroke="#333">10</text>
<line x1="354.20" y1="292.00" x2="354.20" y2="295.00" stroke="#1a1a1a" stroke-width="1.2"/>
<line x1="409.40" y1="292.00" x2="409.40" y2="295.00" stroke="#1a1a1a" stroke-width="1.2"/>
<text x="353.50" y="305.30" font-size="7.4" text-anchor="middle" fill="#333" stroke="#333">BM</text>
<text x="409.40" y="305.30" font-size="7.4" text-anchor="middle" fill="#333" stroke="#333" textLength="24.30" lengthAdjust="spacingAndGlyphs">Spleen</text>
<text x="299.00" y="277.20" font-size="8.6" fill="#2a2a2a" stroke="#2a2a2a" stroke-width="0.3" textLength="47.40" lengthAdjust="spacingAndGlyphs" transform="rotate(-90 299.00 277.20)">n of CD19<tspan font-size="5.33" dy="-3.27">+</tspan><tspan dy="3.27"> cells</tspan></text>
<text x="309.30" y="265.00" font-size="7.9" fill="#2a2a2a" stroke="#2a2a2a" stroke-width="0.3" textLength="22.80" lengthAdjust="spacingAndGlyphs" transform="rotate(-90 309.30 265.00)">(X10e6)</text>
<text x="341.30" y="216.40" font-size="7.4" fill="#2a2a2a" stroke="#2a2a2a" textLength="27.90" lengthAdjust="spacingAndGlyphs"><tspan font-size="5.55" dy="-1.33">*</tspan><tspan dy="1.33">p&lt;0.05</tspan></text>
<line x1="340.30" y1="219.70" x2="369.70" y2="219.70" stroke="#222" stroke-width="1.2"/>
<text x="396.00" y="262.00" font-size="7.4" fill="#2a2a2a" stroke="#2a2a2a" textLength="27.60" lengthAdjust="spacingAndGlyphs"><tspan font-size="5.55" dy="-1.33">*</tspan><tspan dy="1.33">p&lt;0.05</tspan></text>
<line x1="395.10" y1="265.50" x2="425.00" y2="265.50" stroke="#222" stroke-width="1.2"/>
<text x="11.40" y="356.30" font-size="11.7" fill="#111" stroke="#111" font-weight="bold">F</text>
<text x="109.50" y="364.80" font-size="9.6" text-anchor="middle" fill="#222" stroke="#222" textLength="15.20" lengthAdjust="spacingAndGlyphs">BM</text>
<rect x="59.10" y="398.01" width="26.00" height="52.39" fill="#dc8b17"/>
<rect x="59.10" y="387.60" width="26.00" height="10.41" fill="#56226b"/>
<rect x="59.10" y="383.49" width="26.00" height="4.11" fill="#66a943"/>
<rect x="59.10" y="382.15" width="26.00" height="1.35" fill="#3b3a4a"/>
<rect x="59.10" y="380.73" width="26.00" height="1.42" fill="#5a2a2a"/>
<rect x="96.20" y="400.20" width="25.80" height="50.20" fill="#dc8b17"/>
<rect x="96.20" y="394.18" width="25.80" height="6.02" fill="#56226b"/>
<rect x="96.20" y="379.67" width="25.80" height="14.51" fill="#66a943"/>
<rect x="133.40" y="410.61" width="26.10" height="39.79" fill="#dc8b17"/>
<rect x="133.40" y="398.93" width="26.10" height="11.68" fill="#56226b"/>
<rect x="133.40" y="382.43" width="26.10" height="16.50" fill="#66a943"/>
<rect x="133.40" y="381.51" width="26.10" height="0.92" fill="#2a2a3a"/>
<line x1="72.10" y1="380.90" x2="72.10" y2="382.40" stroke="#111" stroke-width="1.2"/>
<line x1="66.10" y1="380.90" x2="78.10" y2="380.90" stroke="#111" stroke-width="1.2"/>
<line x1="66.10" y1="382.40" x2="78.10" y2="382.40" stroke="#111" stroke-width="1.2"/>
<line x1="72.10" y1="397.60" x2="72.10" y2="398.90" stroke="#111" stroke-width="1.2"/>
<line x1="66.10" y1="397.60" x2="78.10" y2="397.60" stroke="#111" stroke-width="1.2"/>
<line x1="66.10" y1="398.90" x2="78.10" y2="398.90" stroke="#111" stroke-width="1.2"/>
<line x1="109.30" y1="379.80" x2="109.30" y2="384.00" stroke="#111" stroke-width="1.2"/>
<line x1="104.30" y1="379.80" x2="114.30" y2="379.80" stroke="#111" stroke-width="1.2"/>
<line x1="104.30" y1="384.00" x2="114.30" y2="384.00" stroke="#111" stroke-width="1.2"/>
<line x1="109.30" y1="400.20" x2="109.30" y2="402.60" stroke="#111" stroke-width="1.2"/>
<line x1="104.30" y1="400.20" x2="114.30" y2="400.20" stroke="#111" stroke-width="1.2"/>
<line x1="104.30" y1="402.60" x2="114.30" y2="402.60" stroke="#111" stroke-width="1.2"/>
<line x1="146.40" y1="381.70" x2="146.40" y2="387.10" stroke="#111" stroke-width="1.2"/>
<line x1="140.40" y1="381.70" x2="152.40" y2="381.70" stroke="#111" stroke-width="1.2"/>
<line x1="140.40" y1="387.10" x2="152.40" y2="387.10" stroke="#111" stroke-width="1.2"/>
<line x1="146.40" y1="410.80" x2="146.40" y2="415.10" stroke="#111" stroke-width="1.2"/>
<line x1="140.40" y1="410.80" x2="152.40" y2="410.80" stroke="#111" stroke-width="1.2"/>
<line x1="140.40" y1="415.10" x2="152.40" y2="415.10" stroke="#111" stroke-width="1.2"/>
<line x1="53.60" y1="376.60" x2="53.60" y2="451.10" stroke="#1a1a1a" stroke-width="1.5"/>
<line x1="52.90" y1="450.40" x2="165.10" y2="450.40" stroke="#1a1a1a" stroke-width="1.5"/>
<line x1="50.60" y1="450.40" x2="53.60" y2="450.40" stroke="#1a1a1a" stroke-width="1.2"/>
<text x="48.50" y="453.10" font-size="7.8" text-anchor="end" fill="#333" stroke="#333">0</text>
<line x1="50.60" y1="436.24" x2="53.60" y2="436.24" stroke="#1a1a1a" stroke-width="1.2"/>
<text x="48.50" y="438.94" font-size="7.8" text-anchor="end" fill="#333" stroke="#333">20</text>
<line x1="50.60" y1="422.08" x2="53.60" y2="422.08" stroke="#1a1a1a" stroke-width="1.2"/>
<text x="48.50" y="424.78" font-size="7.8" text-anchor="end" fill="#333" stroke="#333">40</text>
<line x1="50.60" y1="407.92" x2="53.60" y2="407.92" stroke="#1a1a1a" stroke-width="1.2"/>
<text x="48.50" y="410.62" font-size="7.8" text-anchor="end" fill="#333" stroke="#333">60</text>
<line x1="50.60" y1="393.76" x2="53.60" y2="393.76" stroke="#1a1a1a" stroke-width="1.2"/>
<text x="48.50" y="396.46" font-size="7.8" text-anchor="end" fill="#333" stroke="#333">80</text>
<line x1="50.60" y1="379.60" x2="53.60" y2="379.60" stroke="#1a1a1a" stroke-width="1.2"/>
<text x="48.50" y="382.30" font-size="7.8" text-anchor="end" fill="#333" stroke="#333">100</text>
<line x1="72.10" y1="450.40" x2="72.10" y2="452.90" stroke="#1a1a1a" stroke-width="1.2"/>
<line x1="109.30" y1="450.40" x2="109.30" y2="452.90" stroke="#1a1a1a" stroke-width="1.2"/>
<line x1="146.40" y1="450.40" x2="146.40" y2="452.90" stroke="#1a1a1a" stroke-width="1.2"/>
<text x="72.10" y="463.90" font-size="7.7" text-anchor="middle" fill="#333" stroke="#333">HC</text>
<text x="72.10" y="473.80" font-size="7.6" text-anchor="middle" fill="#333" stroke="#333" textLength="19.20" lengthAdjust="spacingAndGlyphs">n=23</text>
<text x="109.00" y="463.90" font-size="7.7" text-anchor="middle" fill="#333" stroke="#333">T1D</text>
<text x="109.00" y="473.80" font-size="7.6" text-anchor="middle" fill="#333" stroke="#333" textLength="19.20" lengthAdjust="spacingAndGlyphs">n=10</text>
<text x="146.50" y="463.90" font-size="7.7" text-anchor="middle" fill="#333" stroke="#333">RA</text>
<text x="146.50" y="473.80" font-size="7.6" text-anchor="middle" fill="#333" stroke="#333" textLength="19.20" lengthAdjust="spacingAndGlyphs">n=21</text>
<text x="31.40" y="445.20" font-size="8.6" fill="#2a2a2a" stroke="#2a2a2a" stroke-width="0.3" textLength="63.90" lengthAdjust="spacingAndGlyphs" transform="rotate(-90 31.40 445.20)">% among CD19<tspan font-size="5.33" dy="-3.27">+</tspan><tspan dy="3.27"> cells</tspan></text>
<line x1="162.80" y1="385.40" x2="162.80" y2="397.50" stroke="#222" stroke-width="1.3"/>
<line x1="162.80" y1="414.40" x2="162.80" y2="446.80" stroke="#222" stroke-width="1.3"/>
<text x="167.10" y="394.40" font-size="7.6" fill="#2a2a2a" stroke="#2a2a2a" textLength="59.20" lengthAdjust="spacingAndGlyphs">HC vs RA<tspan font-size="5.70" dy="-1.37">*</tspan><tspan dy="1.37">p&lt;0.05</tspan></text>
<text x="167.10" y="435.00" font-size="7.6" fill="#2a2a2a" stroke="#2a2a2a" textLength="59.20" lengthAdjust="spacingAndGlyphs">HC vs RA<tspan font-size="5.70" dy="-1.37">*</tspan><tspan dy="1.37">p&lt;0.05</tspan></text>
<rect x="174.20" y="335.00" width="15.80" height="6.60" fill="#aa002e"/>
<text x="193.80" y="340.80" font-size="6.6" fill="#333" stroke="#333" stroke-width="0.1" textLength="33.90" lengthAdjust="spacingAndGlyphs">Plasma cells</text>
<rect x="174.20" y="344.50" width="15.80" height="6.60" fill="#2d4c80"/>
<text x="193.80" y="350.30" font-size="6.6" fill="#333" stroke="#333" stroke-width="0.1" textLength="21.50" lengthAdjust="spacingAndGlyphs">Memory</text>
<rect x="174.20" y="354.00" width="15.80" height="6.60" fill="#66a943"/>
<text x="193.80" y="359.80" font-size="6.6" fill="#333" stroke="#333" stroke-width="0.1" textLength="15.00" lengthAdjust="spacingAndGlyphs">Naive</text>
<rect x="174.20" y="363.50" width="15.80" height="6.60" fill="#56226b"/>
<text x="193.80" y="369.30" font-size="6.6" fill="#333" stroke="#333" stroke-width="0.1" textLength="30.50" lengthAdjust="spacingAndGlyphs">Transitional</text>
<rect x="174.20" y="373.00" width="15.80" height="6.60" fill="#dc8b17"/>
<text x="193.80" y="378.80" font-size="6.6" fill="#333" stroke="#333" stroke-width="0.1" textLength="29.00" lengthAdjust="spacingAndGlyphs">Precursors</text>
<text x="274.40" y="356.80" font-size="11.7" fill="#111" stroke="#111" font-weight="bold">G</text>
<rect x="332.00" y="381.03" width="9.10" height="69.17" fill="#66a943"/>
<line x1="336.55" y1="381.03" x2="336.55" y2="367.55" stroke="#333" stroke-width="1.3"/>
<line x1="334.30" y1="367.55" x2="338.80" y2="367.55" stroke="#333" stroke-width="1.3"/>
<rect x="343.90" y="395.39" width="8.70" height="54.81" fill="#aa002e"/>
<line x1="348.25" y1="395.39" x2="348.25" y2="386.47" stroke="#333" stroke-width="1.3"/>
<line x1="346.00" y1="386.47" x2="350.50" y2="386.47" stroke="#333" stroke-width="1.3"/>
<rect x="355.40" y="400.18" width="9.60" height="50.02" fill="#2d4c80"/>
<line x1="360.20" y1="400.18" x2="360.20" y2="391.91" stroke="#333" stroke-width="1.3"/>
<line x1="357.95" y1="391.91" x2="362.45" y2="391.91" stroke="#333" stroke-width="1.3"/>
<rect x="375.00" y="417.57" width="9.10" height="32.62" fill="#66a943"/>
<line x1="379.55" y1="417.57" x2="379.55" y2="413.22" stroke="#333" stroke-width="1.3"/>
<line x1="377.30" y1="413.22" x2="381.80" y2="413.22" stroke="#333" stroke-width="1.3"/>
<rect x="386.70" y="426.71" width="9.40" height="23.49" fill="#aa002e"/>
<line x1="391.40" y1="426.71" x2="391.40" y2="424.10" stroke="#333" stroke-width="1.3"/>
<line x1="389.15" y1="424.10" x2="393.65" y2="424.10" stroke="#333" stroke-width="1.3"/>
<rect x="398.30" y="424.10" width="9.70" height="26.10" fill="#2d4c80"/>
<line x1="403.15" y1="424.10" x2="403.15" y2="420.19" stroke="#333" stroke-width="1.3"/>
<line x1="400.90" y1="420.19" x2="405.40" y2="420.19" stroke="#333" stroke-width="1.3"/>
<rect x="418.20" y="401.05" width="9.30" height="49.15" fill="#66a943"/>
<line x1="422.85" y1="401.05" x2="422.85" y2="391.91" stroke="#333" stroke-width="1.3"/>
<line x1="420.60" y1="391.91" x2="425.10" y2="391.91" stroke="#333" stroke-width="1.3"/>
<rect x="430.00" y="424.53" width="9.30" height="25.67" fill="#aa002e"/>
<line x1="434.65" y1="424.53" x2="434.65" y2="421.71" stroke="#333" stroke-width="1.3"/>
<line x1="432.40" y1="421.71" x2="436.90" y2="421.71" stroke="#333" stroke-width="1.3"/>
<rect x="442.00" y="420.19" width="9.30" height="30.01" fill="#2d4c80"/>
<line x1="446.65" y1="420.19" x2="446.65" y2="416.92" stroke="#333" stroke-width="1.3"/>
<line x1="444.40" y1="416.92" x2="448.90" y2="416.92" stroke="#333" stroke-width="1.3"/>
<line x1="326.20" y1="360.20" x2="326.20" y2="450.90" stroke="#1a1a1a" stroke-width="1.5"/>
<line x1="325.50" y1="450.20" x2="456.00" y2="450.20" stroke="#1a1a1a" stroke-width="1.5"/>
<line x1="323.20" y1="450.20" x2="326.20" y2="450.20" stroke="#1a1a1a" stroke-width="1.2"/>
<text x="319.80" y="452.90" font-size="7.8" text-anchor="end" fill="#333" stroke="#333">0.0</text>
<line x1="323.20" y1="432.80" x2="326.20" y2="432.80" stroke="#1a1a1a" stroke-width="1.2"/>
<text x="319.80" y="435.50" font-size="7.8" text-anchor="end" fill="#333" stroke="#333">0.4</text>
<line x1="323.20" y1="415.40" x2="326.20" y2="415.40" stroke="#1a1a1a" stroke-width="1.2"/>
<text x="319.80" y="418.10" font-size="7.8" text-anchor="end" fill="#333" stroke="#333">0.8</text>
<line x1="323.20" y1="398.00" x2="326.20" y2="398.00" stroke="#1a1a1a" stroke-width="1.2"/>
<text x="319.80" y="400.70" font-size="7.8" text-anchor="end" fill="#333" stroke="#333">1.2</text>
<line x1="323.20" y1="380.60" x2="326.20" y2="380.60" stroke="#1a1a1a" stroke-width="1.2"/>
<text x="319.80" y="383.30" font-size="7.8" text-anchor="end" fill="#333" stroke="#333">1.6</text>
<line x1="323.20" y1="363.20" x2="326.20" y2="363.20" stroke="#1a1a1a" stroke-width="1.2"/>
<text x="319.80" y="365.90" font-size="7.8" text-anchor="end" fill="#333" stroke="#333">2.0</text>
<line x1="347.60" y1="450.20" x2="347.60" y2="452.70" stroke="#1a1a1a" stroke-width="1.2"/>
<line x1="390.70" y1="450.20" x2="390.70" y2="452.70" stroke="#1a1a1a" stroke-width="1.2"/>
<line x1="434.80" y1="450.20" x2="434.80" y2="452.70" stroke="#1a1a1a" stroke-width="1.2"/>
<text x="348.30" y="463.90" font-size="7.4" text-anchor="middle" fill="#333" stroke="#333" textLength="12.40" lengthAdjust="spacingAndGlyphs">BM</text>
<text x="348.30" y="473.30" font-size="7.4" text-anchor="middle" fill="#333" stroke="#333" textLength="27.00" lengthAdjust="spacingAndGlyphs">n=8-10</text>
<text x="391.40" y="463.90" font-size="7.4" text-anchor="middle" fill="#333" stroke="#333" textLength="23.20" lengthAdjust="spacingAndGlyphs">Spleen</text>
<text x="391.40" y="473.30" font-size="7.4" text-anchor="middle" fill="#333" stroke="#333" textLength="26.10" lengthAdjust="spacingAndGlyphs">n=7-10</text>
<text x="435.00" y="463.90" font-size="7.4" text-anchor="middle" fill="#333" stroke="#333" textLength="10.00" lengthAdjust="spacingAndGlyphs">PB</text>
<text x="435.00" y="473.30" font-size="7.4" text-anchor="middle" fill="#333" stroke="#333" textLength="21.50" lengthAdjust="spacingAndGlyphs">n=4-7</text>
<text x="302.50" y="433.30" font-size="8.0" fill="#2a2a2a" stroke="#2a2a2a" stroke-width="0.3" textLength="55.70" lengthAdjust="spacingAndGlyphs" transform="rotate(-90 302.50 433.30)">Relative CD19 MFI</text>
<text x="417.00" y="382.80" font-size="7.4" fill="#2a2a2a" stroke="#2a2a2a" textLength="26.90" lengthAdjust="spacingAndGlyphs"><tspan font-size="5.55" dy="-1.33">*</tspan><tspan dy="1.33">p&lt;0.05</tspan></text>
<line x1="422.80" y1="388.00" x2="438.30" y2="388.00" stroke="#222" stroke-width="1.2"/>
<rect x="451.00" y="360.00" width="10.60" height="7.10" fill="#66a943"/>
<text x="464.80" y="366.20" font-size="7.7" fill="#333" stroke="#333" textLength="11.20" lengthAdjust="spacingAndGlyphs">HC</text>
<rect x="451.00" y="371.55" width="10.60" height="7.10" fill="#aa002e"/>
<text x="464.80" y="377.75" font-size="7.7" fill="#333" stroke="#333" textLength="13.80" lengthAdjust="spacingAndGlyphs">T1D</text>
<rect x="451.00" y="383.10" width="10.60" height="7.10" fill="#2d4c80"/>
<text x="464.80" y="389.30" font-size="7.7" fill="#333" stroke="#333" textLength="9.60" lengthAdjust="spacingAndGlyphs">RA</text>
<rect x="0.6" y="0.5" width="518.4" height="481.4" fill="none" stroke="#000" stroke-width="1.6"/>
</svg>
</body></html>
